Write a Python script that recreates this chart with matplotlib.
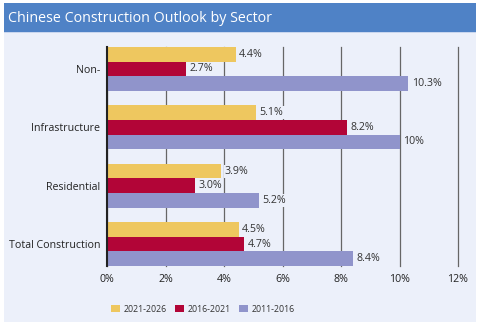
import matplotlib
matplotlib.use("Agg")
import matplotlib.pyplot as plt
from matplotlib.patches import Rectangle, Patch
import numpy as np

plt.rcParams['font.family'] = ['Open Sans', 'DejaVu Sans']

categories = ["Non-", "Infrastructure", "Residential", "Total Construction"]
series_names = ["2021-2026", "2016-2021", "2011-2016"]
v_2021_2026 = [4.4, 5.1, 3.9, 4.5]
v_2016_2021 = [2.7, 8.2, 3.0, 4.7]
v_2011_2016 = [10.3, 10.0, 5.2, 8.4]
labels_2021_2026 = ["4.4%", "5.1%", "3.9%", "4.5%"]
labels_2016_2021 = ["2.7%", "8.2%", "3.0%", "4.7%"]
labels_2011_2016 = ["10.3%", "10%", "5.2%", "8.4%"]
xticks = [0, 2, 4, 6, 8, 10, 12]
xtick_labels = ["0%", "2%", "4%", "6%", "8%", "10%", "12%"]

colors = ["#EEC75F", "#B20537", "#9094CB"]
panel = "#ECF0FA"
title_blue = "#4F82C6"

fig = plt.figure(figsize=(4.8, 3.24), dpi=100)
fig.patch.set_facecolor("white")
fig.add_artist(Rectangle((4/480, 1 - 322/324), 472/480, 319/324, transform=fig.transFigure,
                         facecolor=panel, edgecolor="none", zorder=0))
fig.add_artist(Rectangle((4/480, 1 - 32/324), 472/480, 29/324, transform=fig.transFigure,
                         facecolor=title_blue, edgecolor="none", zorder=1))
fig.add_artist(Rectangle((4/480, 1 - 33/324), 472/480, 1/324, transform=fig.transFigure,
                         facecolor="#C9D6EE", edgecolor="none", zorder=1))
fig.text(8/480, 1 - 18/324, "Chinese Construction Outlook by Sector", color="white",
         fontsize=10.3, va="center", ha="left")

ax = fig.add_axes([107/480, 1 - 266/324, 351/480, 219/324])
ax.set_facecolor(panel)

y = np.arange(len(categories))
h = 0.25
series = [v_2021_2026, v_2016_2021, v_2011_2016]
labels = [labels_2021_2026, labels_2016_2021, labels_2011_2016]
for k, (vals, labs) in enumerate(zip(series, labels)):
    pos = y + (k - 1) * h
    ax.barh(pos, vals, height=h, color=colors[k], label=series_names[k], zorder=3)
    for p, v, l in zip(pos, vals, labs):
        ax.text(v + 0.12, p, l, va="center", ha="left", fontsize=7.7, color="#333333",
                zorder=4, bbox=dict(boxstyle="square,pad=0.1", facecolor=panel, edgecolor="none"))

ax.set_xlim(0, 12)
ax.set_ylim(len(categories) - 1 + 1.5 * h, -1.5 * h)
ax.set_yticks(y)
ax.set_yticklabels(categories, fontsize=7.7, color="#222222")
ax.set_xticks(xticks)
ax.set_xticklabels(xtick_labels, fontsize=7.7, color="#222222")
ax.tick_params(axis="both", length=0, pad=5)
ax.tick_params(axis="x", pad=6)
ax.grid(axis="x", color="#666666", linewidth=0.9, zorder=1)
for gl in ax.get_xgridlines():
    gl.set_clip_on(False)
ax.set_axisbelow(True)
for s in ["top", "right", "bottom"]:
    ax.spines[s].set_visible(False)
ax.spines["left"].set_color("#222222")
ax.spines["left"].set_linewidth(1.5)
ax.spines["left"].set_zorder(5)

handles = [Patch(facecolor=c, edgecolor="none") for c in colors]
fig.legend(handles, series_names, loc="center left", bbox_to_anchor=(103/480, 1 - 309/324),
           ncol=3, frameon=False, fontsize=6.3, handlelength=1.0, handleheight=1.0,
           handletextpad=0.4, columnspacing=1.0, labelcolor="#333333")

fig.savefig("out.png", dpi=100, facecolor=fig.get_facecolor())
